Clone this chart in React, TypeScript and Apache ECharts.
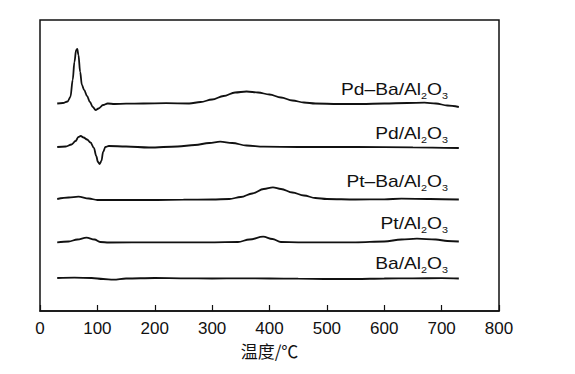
import React, { useEffect, useRef } from "react";
import * as echarts from "echarts";

// Temperatures (°C) and intensities (a.u., stacked offsets)
const pdBaT = [30, 40, 48, 53, 57, 60, 63, 65, 67, 70, 73, 77, 82, 87, 92, 97, 102, 110, 118, 130, 150, 180, 220, 260, 280, 300, 320, 340, 360, 380, 400, 420, 440, 460, 480, 520, 560, 600, 640, 670, 690, 710, 730];
const pdBaV = [207.5, 208, 209.5, 214, 231, 249, 261, 262, 256, 239, 226, 221, 215, 209, 204, 201, 202.5, 206, 207.5, 207, 207.3, 207.5, 207.8, 207.5, 209, 211.5, 215, 218.5, 219.5, 218.5, 216.5, 213.5, 210.5, 208.5, 207.5, 207, 207, 207.5, 208, 208.3, 207.5, 205.5, 204];

const pdT = [30, 45, 55, 62, 67, 71, 76, 82, 88, 94, 98, 101, 104, 107, 110, 114, 120, 150, 190, 240, 270, 295, 314, 335, 360, 390, 450, 550, 650, 730];
const pdV = [164, 164.5, 166.5, 170, 174, 175, 173.5, 171.5, 168.5, 163, 155, 149, 147, 150, 159, 164, 165, 164.5, 163.5, 164.5, 166, 168, 169.3, 168, 165.5, 164.3, 164, 164, 163.7, 163];

const ptBaT = [30, 50, 67, 85, 100, 150, 200, 250, 300, 330, 350, 370, 390, 406, 420, 440, 460, 480, 500, 550, 600, 630, 680, 730];
const ptBaV = [112, 113.5, 114.3, 112.5, 111, 111, 111, 111.3, 111.5, 112, 114, 117.5, 122, 123.7, 122, 118.5, 115.5, 113, 112, 111.5, 111.7, 112.3, 112, 111.5];

const ptT = [30, 50, 65, 81, 95, 105, 120, 200, 300, 345, 365, 389, 405, 420, 450, 550, 600, 630, 657, 690, 710, 730];
const ptV = [68.7, 69.5, 71.5, 73.3, 71.5, 69, 68.5, 68.7, 68.7, 69, 71.5, 74.3, 72, 69, 68.7, 68.7, 69.5, 71.5, 72.3, 71.5, 70, 69.5];

const baT = [30, 60, 90, 110, 128, 150, 200, 250, 300, 350, 400, 450, 500, 550, 600, 650, 700, 730];
const baV = [33, 33.3, 33, 32, 31.3, 32.5, 33, 32.7, 32.5, 32.7, 32.5, 32.3, 32, 32, 32.5, 32.7, 32.8, 32.5];

const xTicks = [0, 100, 200, 300, 400, 500, 600, 700, 800];

const labels = [
  { main: "Pd–Ba/Al", sub1: "2", mid: "O", sub2: "3", y: 91 },
  { main: "Pd/Al", sub1: "2", mid: "O", sub2: "3", y: 135 },
  { main: "Pt–Ba/Al", sub1: "2", mid: "O", sub2: "3", y: 183 },
  { main: "Pt/Al", sub1: "2", mid: "O", sub2: "3", y: 225 },
  { main: "Ba/Al", sub1: "2", mid: "O", sub2: "3", y: 265 },
];

const zip = (t: number[], v: number[]) => t.map((x, i) => [x, v[i]]);

export default function App() {
  const ref = useRef<HTMLDivElement>(null);
  useEffect(() => {
    if (!ref.current) return;
    const chart = echarts.init(ref.current, null, { renderer: "svg" });
    const lineSeries = (data: number[][]) => ({
      type: "line",
      data,
      showSymbol: false,
      symbol: "none",
      smooth: 0.35,
      smoothMonotone: "x",
      lineStyle: { color: "#111", width: 1.8 },
      silent: true,
    });
    const font = "'Liberation Sans', Arial, sans-serif";
    chart.setOption({
      animation: false,
      backgroundColor: "#fff",
      grid: {
        left: 40,
        top: 20,
        right: 76,
        bottom: 63,
        show: true,
        borderColor: "#111",
        borderWidth: 1.5,
        containLabel: false,
      },
      xAxis: {
        type: "value",
        min: 0,
        max: 800,
        interval: 100,
        name: "温度/℃",
        nameLocation: "middle",
        nameGap: 30,
        nameTextStyle: {
          fontFamily: "'Noto Sans CJK SC', sans-serif",
          fontSize: 17,
          color: "#111",
        },
        axisLine: { show: true, lineStyle: { color: "#111", width: 1.5 } },
        axisTick: { show: true, inside: true, length: 6, lineStyle: { color: "#111", width: 1.2 } },
        axisLabel: {
          fontFamily: font,
          fontSize: 17,
          color: "#111",
          margin: 9,
          formatter: (v: number) => (xTicks.includes(v) ? String(v) : ""),
        },
        splitLine: { show: false },
      },
      yAxis: {
        type: "value",
        min: 0,
        max: 291,
        axisLine: { show: false },
        axisTick: { show: false },
        axisLabel: { show: false },
        splitLine: { show: false },
      },
      series: [
        lineSeries(zip(pdBaT, pdBaV)),
        lineSeries(zip(pdT, pdV)),
        lineSeries(zip(ptBaT, ptBaV)),
        lineSeries(zip(ptT, ptV)),
        lineSeries(zip(baT, baV)),
      ],
      graphic: labels.map((l) => ({
        type: "text",
        x: 448,
        y: l.y,
        scaleX: 1.2,
        silent: true,
        style: {
          text: `{n|${l.main}}{s|${l.sub1}}{n|${l.mid}}{s|${l.sub2}}`,
          textAlign: "right",
          textVerticalAlign: "middle",
          fill: "#111",
          rich: {
            n: { fontFamily: font, fontSize: 16, lineHeight: 18, verticalAlign: "top", fill: "#111" },
            s: { fontFamily: font, fontSize: 9, lineHeight: 9, padding: [11, 0, 0, 0], verticalAlign: "bottom", fill: "#111" },
          },
        },
      })),
    });
    return () => chart.dispose();
  }, []);
  return (
    <div
      ref={ref}
      style={{ position: "fixed", left: 0, top: 0, width: 575, height: 374, background: "#fff" }}
    />
  );
}
